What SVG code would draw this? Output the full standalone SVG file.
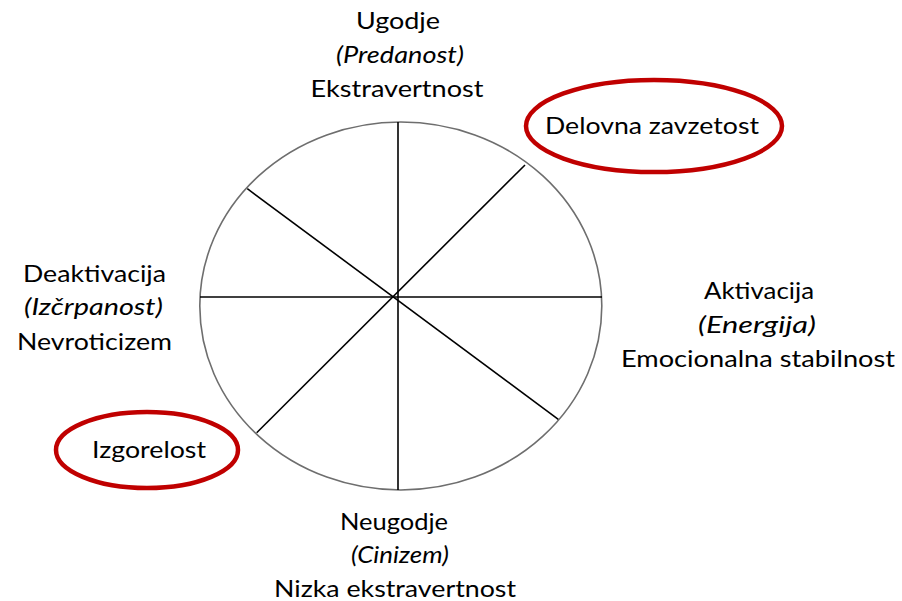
<svg xmlns="http://www.w3.org/2000/svg" width="902" height="601" viewBox="0 0 902 601">
<style>
text{font-family:Lato,"Open Sans","Liberation Sans",sans-serif;font-size:23px;fill:#000;text-anchor:middle}
.i{font-style:italic}
.spoke{stroke:#000;stroke-width:1.6;fill:none}
.rim{stroke:#6e6e6e;stroke-width:1.6;fill:none}
.hl{stroke:#C00000;stroke-width:4.5;fill:none}
</style>
<rect width="902" height="601" fill="#fff"/>
<g id="wheel">
<ellipse class="rim" cx="400.8" cy="306" rx="201" ry="184"/>
</g>
<g id="connectors">
<line class="spoke" x1="398" y1="122" x2="398" y2="490"/>
<line class="spoke" x1="200" y1="297" x2="602" y2="297"/>
<line class="spoke" x1="525" y1="165" x2="256.7" y2="432.7"/>
<line class="spoke" x1="247.3" y1="188.7" x2="558.3" y2="419.3"/>
</g>
<g id="top">
<text x="398" y="29" textLength="84" lengthAdjust="spacingAndGlyphs">Ugodje</text>
<text class="i" x="400" y="63" textLength="128" lengthAdjust="spacingAndGlyphs">(Predanost)</text>
<text x="397" y="97" textLength="173" lengthAdjust="spacingAndGlyphs">Ekstravertnost</text>
</g>
<g id="engagement">
<ellipse class="hl" cx="654" cy="126" rx="128" ry="46"/>
<text x="652" y="134" textLength="214" lengthAdjust="spacingAndGlyphs">Delovna zavzetost</text>
</g>
<g id="right">
<text x="759" y="299" textLength="110" lengthAdjust="spacingAndGlyphs">Aktivacija</text>
<text class="i" x="757" y="333" textLength="118" lengthAdjust="spacingAndGlyphs">(Energija)</text>
<text x="758" y="367" textLength="274" lengthAdjust="spacingAndGlyphs">Emocionalna stabilnost</text>
</g>
<g id="left">
<text x="94.5" y="282" textLength="143" lengthAdjust="spacingAndGlyphs">Deaktivacija</text>
<text class="i" x="93.5" y="315" textLength="139" lengthAdjust="spacingAndGlyphs">(Izčrpanost)</text>
<text x="94.5" y="350" textLength="155" lengthAdjust="spacingAndGlyphs">Nevroticizem</text>
</g>
<g id="burnout">
<ellipse class="hl" cx="147" cy="450" rx="91" ry="38"/>
<text x="149" y="458" textLength="114" lengthAdjust="spacingAndGlyphs">Izgorelost</text>
</g>
<g id="bottom">
<text x="394" y="530" textLength="108" lengthAdjust="spacingAndGlyphs">Neugodje</text>
<text class="i" x="400" y="563" textLength="98" lengthAdjust="spacingAndGlyphs">(Cinizem)</text>
<text x="395" y="597" textLength="242" lengthAdjust="spacingAndGlyphs">Nizka ekstravertnost</text>
</g>
</svg>
